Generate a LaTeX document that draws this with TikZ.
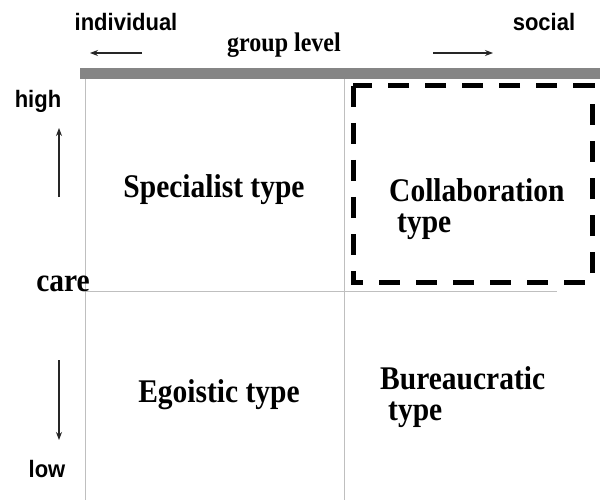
\documentclass[tikz,border=0pt]{standalone}
\usepackage{fontspec}
\setmainfont{Liberation Serif}
\setsansfont{Liberation Sans}
\usetikzlibrary{arrows.meta}
% slightly taller lettering
\newcommand{\tallbox}[2][1.12]{\scalebox{1}[#1]{#2}}
\begin{document}
\begin{tikzpicture}[x=1pt,y=-1pt,
  gridline/.style={draw=black!25,line width=1pt},
  axisarrow/.style={draw=black!85,line width=1.1pt,-{Stealth[length=8pt,width=6pt]}},
  sanslabel/.style={font=\sffamily\bfseries\fontsize{22}{24}\selectfont,inner sep=0pt},
  typelabel/.style={font=\bfseries\fontsize{29.5}{32}\selectfont,inner sep=0pt,align=left},
  highlight/.style={draw=black,line width=5pt,dash pattern=on 21pt off 16pt}]
\useasboundingbox (0,0) rectangle (600,500);
\fill[white] (0,0) rectangle (600,500);

% header bar over the quadrants
\fill[black!48] (80,68) rectangle (600,79);

% quadrant lines
\coordinate (tl) at (85,79);
\coordinate (bl) at (85,500);
\coordinate (tm) at (344,79);
\coordinate (bm) at (344,500);
\coordinate (ml) at (85,291);
\coordinate (mr) at (557,291);
\draw[gridline] (tl) -- (bl);
\draw[gridline] (tm) -- (bm);
\draw[gridline] (ml) -- (mr);

% horizontal axis
\node[sanslabel] (ind) at (126,22) {\tallbox[1.08]{individual}};
\node[sanslabel] (soc) at (544,22) {\tallbox[1.08]{social}};
\node[font=\bfseries\fontsize{24}{26}\selectfont,inner sep=0pt] (grp) at (284,45) {\tallbox{group level}};
\coordinate (la0) at (142,53);
\coordinate (la1) at (90,53);
\coordinate (ra0) at (433,53);
\coordinate (ra1) at (493,53);
\draw[axisarrow] (la0) -- (la1);
\draw[axisarrow] (ra0) -- (ra1);

% vertical axis
\node[sanslabel] (hi) at (38,101) {\tallbox[1.08]{high}};
\node[font=\bfseries\fontsize{29.5}{32}\selectfont,inner sep=0pt] (care) at (63,284) {\tallbox{care}};
\node[sanslabel] (lo) at (47,469) {\tallbox[1.08]{low}};
\coordinate (ua0) at (59,197);
\coordinate (ua1) at (59,128);
\coordinate (da0) at (59,360);
\coordinate (da1) at (59,440);
\draw[axisarrow] (ua0) -- (ua1);
\draw[axisarrow] (da0) -- (da1);

% quadrant types
\node[typelabel] (spec) at (214,190) {\tallbox{Specialist type}};
\node[typelabel] (ego) at (219,395) {\tallbox{Egoistic type}};
\node[typelabel,anchor=west] (coll) at (389,190) {\tallbox{Collaboration}};
\node[typelabel,anchor=west] (collt) at (397,227) {\tallbox{type}};
\node[typelabel,anchor=west] (bur) at (380,378) {\tallbox{Bureaucratic}};
\node[typelabel,anchor=west] (burt) at (388,415) {\tallbox{type}};

% highlighted quadrant
\draw[highlight] (353,86) rectangle (592,282);
\end{tikzpicture}
\end{document}
